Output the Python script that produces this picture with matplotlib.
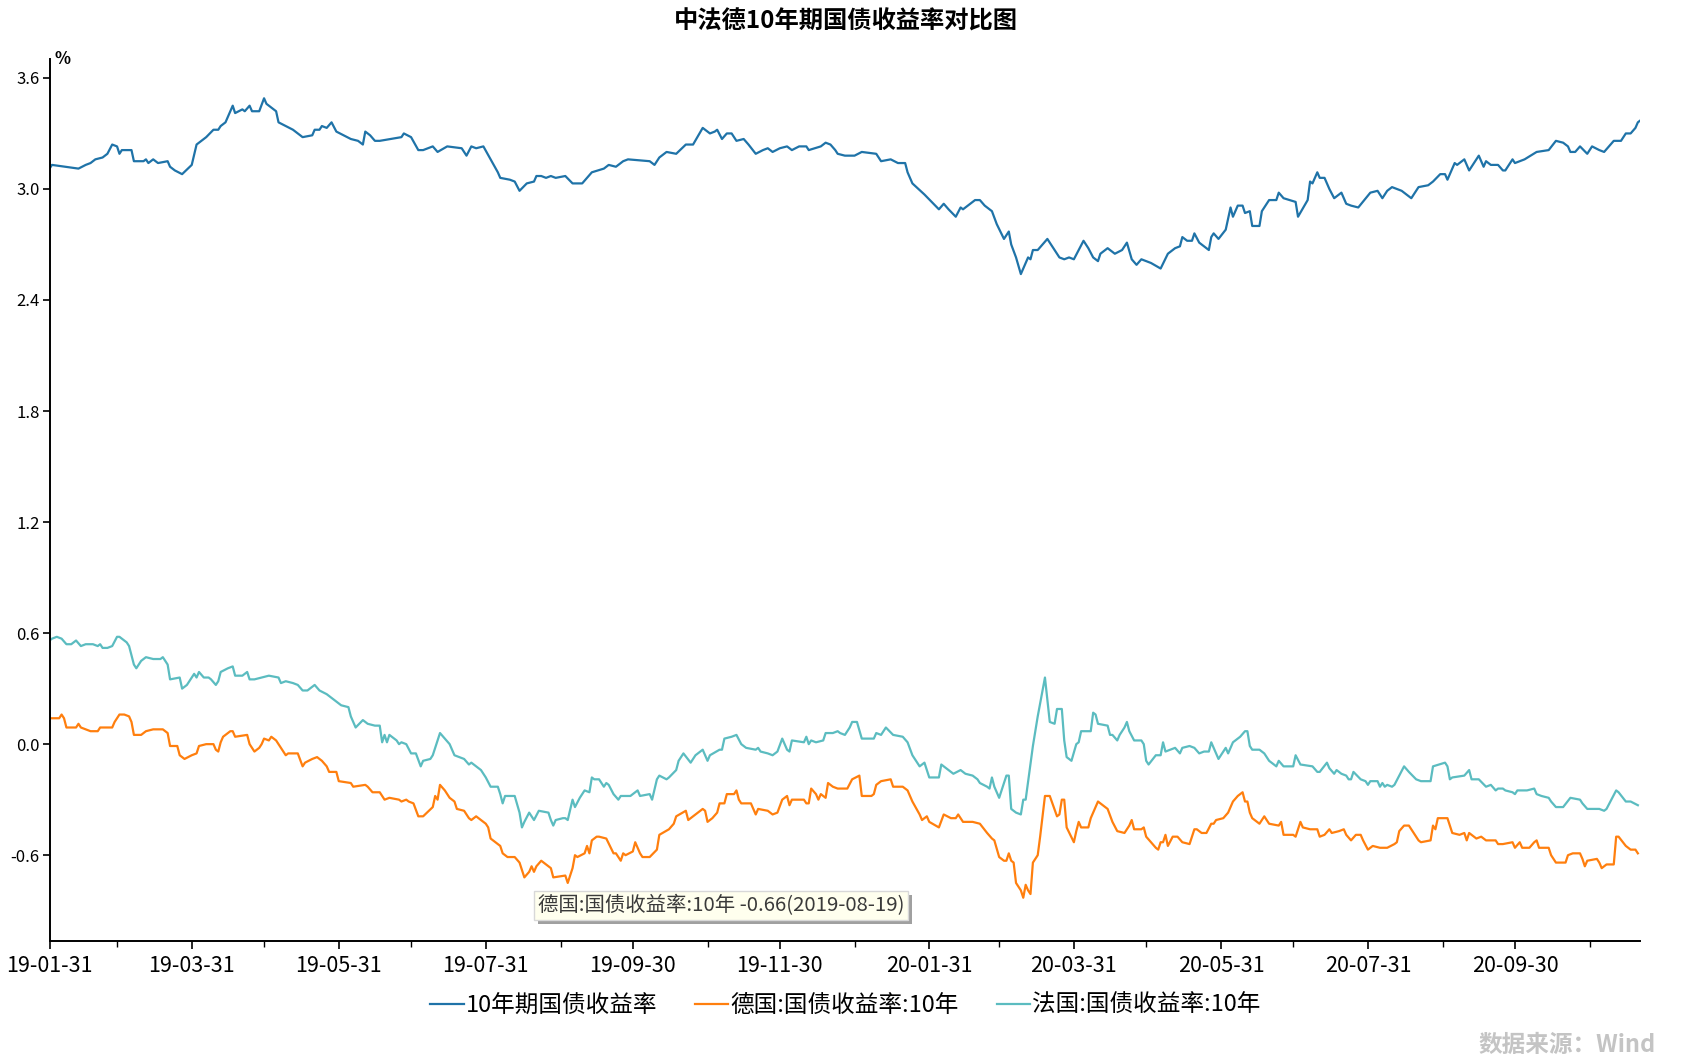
import matplotlib
matplotlib.use("Agg")
import matplotlib.pyplot as plt
import matplotlib.dates as mdates
import matplotlib.patheffects as pe
import pandas as pd

plt.rcParams['font.family'] = ['Noto Sans CJK SC', 'DejaVu Sans']
plt.rcParams['axes.unicode_minus'] = False

start = '2019-01-31'
end_day = 660

# day offsets from 2019-01-31 and yields (%)
cn_days = [0, 1, 12, 15, 17, 19, 22, 24, 26, 28, 29, 30, 34, 35, 39, 40, 41, 43, 45, 49,
           50, 52, 55, 59, 61, 65, 68, 70, 71, 73, 74, 76, 77, 80, 81, 83, 84, 87, 89, 90,
           94, 95, 98, 101, 103, 105, 109, 110, 112, 113, 115, 117, 119, 122, 125, 128, 130, 131, 133, 135,
           137, 146, 147, 150, 153, 155, 159, 161, 165, 171, 173, 175, 177, 180, 183, 186, 187, 191, 193, 195,
           198, 201, 202, 204, 206, 208, 210, 214, 217, 221, 223, 225, 230, 232, 235, 238, 240, 249, 251, 253,
           256, 260, 264, 267, 271, 274, 276, 277, 279, 281, 283, 285, 288, 290, 293, 296, 298, 300, 303, 306,
           308, 311, 314, 315, 320, 322, 324, 326, 327, 330, 334, 337, 343, 345, 349, 352, 355, 356, 358, 363,
           369, 371, 373, 376, 378, 379, 384, 386, 388, 391, 393, 396, 398, 399, 401, 403, 405, 406, 407, 408,
           410, 414, 417, 419, 421, 423, 425, 427, 429, 431, 433, 435, 436, 439, 442, 445, 447, 449, 451, 453,
           457, 461, 464, 467, 469, 470, 472, 474, 475, 477, 481, 482, 483, 485, 488, 490, 491, 493, 495, 496,
           498, 499, 502, 503, 506, 509, 510, 512, 517, 518, 522, 523, 524, 526, 527, 529, 531, 533, 536, 538,
           540, 543, 548, 551, 553, 555, 557, 561, 565, 568, 572, 574, 577, 579, 580, 583, 584, 587, 589, 593,
           595, 596, 598, 601, 603, 604, 607, 608, 612, 617, 622, 625, 628, 630, 631, 633, 635, 638, 640, 643,
           645, 647, 649, 652, 654, 656, 658, 659, 660]
cn_vals = [3.11, 3.13, 3.11, 3.13, 3.14, 3.16, 3.17, 3.19, 3.24, 3.23, 3.19, 3.21, 3.21, 3.15, 3.15, 3.16, 3.14, 3.16, 3.14, 3.15,
           3.12, 3.10, 3.08, 3.13, 3.24, 3.28, 3.32, 3.32, 3.34, 3.36, 3.39, 3.45, 3.41, 3.43, 3.42, 3.45, 3.42, 3.42, 3.49, 3.46,
           3.42, 3.36, 3.34, 3.32, 3.30, 3.28, 3.29, 3.32, 3.32, 3.34, 3.33, 3.36, 3.31, 3.29, 3.27, 3.26, 3.24, 3.31, 3.29, 3.26,
           3.26, 3.28, 3.30, 3.28, 3.21, 3.21, 3.23, 3.20, 3.23, 3.22, 3.18, 3.23, 3.22, 3.23, 3.16, 3.09, 3.06, 3.05, 3.04, 2.99,
           3.03, 3.04, 3.07, 3.07, 3.06, 3.07, 3.06, 3.07, 3.03, 3.03, 3.06, 3.09, 3.11, 3.13, 3.12, 3.15, 3.16, 3.15, 3.13, 3.17,
           3.20, 3.19, 3.24, 3.24, 3.33, 3.30, 3.31, 3.32, 3.27, 3.30, 3.30, 3.26, 3.27, 3.24, 3.19, 3.21, 3.22, 3.20, 3.22, 3.23,
           3.21, 3.23, 3.23, 3.21, 3.23, 3.25, 3.24, 3.21, 3.19, 3.18, 3.18, 3.20, 3.19, 3.15, 3.16, 3.14, 3.14, 3.09, 3.03, 2.97,
           2.89, 2.92, 2.89, 2.85, 2.90, 2.89, 2.94, 2.94, 2.91, 2.88, 2.81, 2.73, 2.77, 2.70, 2.63, 2.54, 2.60, 2.63, 2.62, 2.67,
           2.67, 2.73, 2.67, 2.63, 2.62, 2.63, 2.62, 2.67, 2.72, 2.68, 2.63, 2.61, 2.65, 2.68, 2.65, 2.67, 2.71, 2.62, 2.59, 2.62,
           2.60, 2.57, 2.65, 2.68, 2.69, 2.74, 2.72, 2.72, 2.76, 2.71, 2.67, 2.74, 2.76, 2.73, 2.78, 2.90, 2.85, 2.91, 2.91, 2.87,
           2.88, 2.80, 2.80, 2.88, 2.94, 2.94, 2.98, 2.95, 2.93, 2.85, 2.94, 3.04, 3.03, 3.09, 3.06, 3.06, 3.00, 2.95, 2.98, 2.92,
           2.91, 2.90, 2.98, 2.99, 2.95, 2.99, 3.01, 2.99, 2.95, 3.01, 3.02, 3.04, 3.08, 3.08, 3.05, 3.14, 3.13, 3.16, 3.10, 3.18,
           3.12, 3.15, 3.13, 3.13, 3.10, 3.10, 3.16, 3.14, 3.16, 3.20, 3.21, 3.26, 3.25, 3.23, 3.20, 3.20, 3.23, 3.19, 3.23, 3.21,
           3.20, 3.23, 3.26, 3.26, 3.30, 3.30, 3.33, 3.36, 3.37]

de_days = [0, 4, 5, 6, 7, 11, 12, 13, 17, 20, 21, 26, 27, 29, 31, 33, 34, 35, 38, 40,
           43, 47, 49, 50, 53, 54, 56, 59, 61, 62, 65, 68, 69, 70, 71, 72, 75, 76, 77, 82,
           83, 85, 87, 88, 89, 91, 92, 94, 95, 98, 99, 103, 105, 106, 109, 111, 113, 115, 116, 119,
           120, 125, 126, 131, 132, 134, 137, 139, 141, 145, 146, 148, 149, 151, 153, 155, 159, 160, 161, 162,
           164, 166, 168, 169, 172, 174, 175, 177, 179, 181, 182, 183, 185, 187, 188, 190, 193, 195, 197, 199,
           200, 201, 202, 204, 206, 208, 209, 214, 215, 217, 218, 219, 222, 223, 224, 225, 227, 228, 231, 234,
           235, 237, 238, 239, 242, 243, 245, 246, 249, 252, 253, 257, 259, 260, 264, 265, 267, 271, 272, 273,
           275, 277, 278, 280, 281, 284, 285, 286, 287, 291, 293, 294, 298, 300, 302, 304, 306, 307, 308, 313,
           314, 315, 316, 318, 319, 320, 322, 323, 325, 327, 331, 333, 336, 337, 341, 342, 343, 345, 349, 350,
           354, 356, 358, 361, 362, 364, 365, 369, 371, 374, 376, 377, 379, 383, 386, 389, 391, 392, 394, 396,
           397, 398, 399, 400, 401, 403, 404, 405, 406, 407, 408, 410, 411, 413, 415, 418, 419, 420, 421, 422,
           425, 426, 427, 428, 431, 432, 435, 437, 439, 441, 443, 446, 448, 449, 450, 453, 454, 455, 459, 460,
           461, 462, 463, 464, 466, 468, 470, 473, 475, 476, 478, 480, 482, 483, 484, 487, 489, 491, 493, 495,
           496, 497, 498, 499, 502, 504, 506, 510, 511, 512, 516, 517, 519, 520, 523, 526, 527, 529, 531, 532,
           535, 537, 538, 540, 542, 544, 545, 547, 549, 552, 555, 558, 559, 560, 562, 564, 566, 568, 569, 573,
           574, 575, 576, 580, 582, 585, 587, 588, 589, 592, 594, 596, 600, 601, 603, 607, 608, 610, 611, 614,
           616, 617, 618, 622, 623, 625, 629, 630, 632, 635, 636, 637, 638, 642, 643, 644, 646, 649, 650, 651,
           654, 656, 658, 659]
de_vals = [0.14, 0.14, 0.16, 0.14, 0.09, 0.09, 0.11, 0.09, 0.07, 0.07, 0.09, 0.09, 0.12, 0.16, 0.16, 0.15, 0.12, 0.05, 0.05, 0.07,
           0.08, 0.08, 0.06, -0.01, -0.01, -0.06, -0.08, -0.06, -0.05, -0.01, 0.00, 0.00, -0.03, -0.04, 0.01, 0.04, 0.07, 0.07, 0.04, 0.05,
           0.00, -0.04, -0.02, 0.00, 0.03, 0.02, 0.04, 0.02, 0.00, -0.06, -0.05, -0.05, -0.12, -0.10, -0.08, -0.07, -0.09, -0.12, -0.15, -0.15,
           -0.20, -0.21, -0.23, -0.22, -0.23, -0.26, -0.26, -0.30, -0.29, -0.30, -0.31, -0.30, -0.31, -0.32, -0.39, -0.39, -0.34, -0.28, -0.30, -0.22,
           -0.25, -0.29, -0.31, -0.35, -0.36, -0.40, -0.41, -0.39, -0.41, -0.43, -0.45, -0.51, -0.53, -0.55, -0.59, -0.61, -0.61, -0.64, -0.72, -0.69,
           -0.66, -0.69, -0.66, -0.63, -0.65, -0.67, -0.72, -0.71, -0.75, -0.67, -0.60, -0.61, -0.59, -0.55, -0.59, -0.52, -0.50, -0.50, -0.51, -0.59,
           -0.59, -0.63, -0.59, -0.60, -0.58, -0.53, -0.59, -0.61, -0.61, -0.57, -0.49, -0.46, -0.43, -0.39, -0.36, -0.41, -0.39, -0.35, -0.36, -0.42,
           -0.40, -0.37, -0.32, -0.32, -0.27, -0.27, -0.25, -0.30, -0.32, -0.32, -0.38, -0.35, -0.36, -0.38, -0.37, -0.30, -0.28, -0.33, -0.30, -0.30,
           -0.32, -0.32, -0.24, -0.27, -0.30, -0.27, -0.29, -0.21, -0.23, -0.24, -0.24, -0.19, -0.17, -0.28, -0.28, -0.27, -0.22, -0.20, -0.19, -0.23,
           -0.23, -0.25, -0.31, -0.38, -0.41, -0.39, -0.42, -0.45, -0.38, -0.40, -0.40, -0.38, -0.42, -0.42, -0.43, -0.48, -0.51, -0.52, -0.61, -0.63,
           -0.63, -0.59, -0.63, -0.64, -0.75, -0.79, -0.83, -0.76, -0.79, -0.81, -0.64, -0.60, -0.50, -0.28, -0.28, -0.39, -0.38, -0.30, -0.30, -0.45,
           -0.53, -0.47, -0.42, -0.45, -0.45, -0.40, -0.31, -0.33, -0.35, -0.42, -0.47, -0.48, -0.44, -0.41, -0.46, -0.46, -0.45, -0.50, -0.56, -0.57,
           -0.53, -0.53, -0.49, -0.55, -0.50, -0.50, -0.53, -0.54, -0.46, -0.46, -0.48, -0.48, -0.43, -0.43, -0.41, -0.40, -0.37, -0.31, -0.28, -0.26,
           -0.31, -0.31, -0.37, -0.40, -0.43, -0.39, -0.43, -0.44, -0.42, -0.49, -0.49, -0.50, -0.42, -0.45, -0.46, -0.46, -0.50, -0.49, -0.46, -0.48,
           -0.47, -0.46, -0.49, -0.52, -0.49, -0.49, -0.52, -0.57, -0.55, -0.56, -0.56, -0.54, -0.53, -0.47, -0.44, -0.44, -0.48, -0.52, -0.53, -0.52,
           -0.44, -0.46, -0.40, -0.40, -0.48, -0.49, -0.48, -0.52, -0.48, -0.51, -0.50, -0.52, -0.52, -0.54, -0.54, -0.53, -0.56, -0.53, -0.56, -0.56,
           -0.53, -0.52, -0.56, -0.56, -0.60, -0.64, -0.64, -0.60, -0.59, -0.59, -0.62, -0.66, -0.63, -0.62, -0.64, -0.67, -0.65, -0.65, -0.50, -0.50,
           -0.55, -0.57, -0.57, -0.59]

fr_days = [0, 1, 3, 5, 7, 9, 11, 13, 15, 18, 20, 21, 22, 24, 26, 28, 29, 31, 32, 33,
           35, 36, 38, 40, 43, 46, 47, 49, 50, 54, 55, 57, 60, 61, 62, 64, 66, 67, 69, 70,
           71, 74, 76, 77, 80, 82, 83, 85, 91, 95, 96, 98, 101, 103, 105, 107, 110, 112, 115, 117,
           119, 121, 124, 125, 127, 130, 132, 135, 137, 138, 139, 140, 141, 144, 145, 146, 148, 150, 152, 154,
           155, 158, 159, 162, 164, 166, 168, 170, 172, 174, 175, 177, 179, 181, 183, 186, 187, 188, 189, 192,
           193, 195, 196, 197, 199, 201, 203, 207, 208, 209, 210, 213, 214, 215, 217, 218, 220, 222, 224, 225,
           226, 228, 230, 231, 232, 234, 236, 237, 241, 244, 245, 249, 250, 252, 253, 256, 257, 260, 261, 263,
           266, 268, 271, 272, 273, 274, 278, 279, 280, 283, 285, 287, 289, 293, 294, 295, 298, 300, 302, 304,
           306, 307, 308, 313, 314, 315, 316, 318, 321, 322, 325, 327, 328, 330, 332, 333, 335, 337, 342, 343,
           345, 347, 350, 354, 356, 358, 361, 363, 365, 369, 370, 372, 375, 378, 380, 383, 385, 386, 389, 390,
           391, 392, 394, 396, 397, 398, 399, 401, 403, 404, 405, 408, 410, 411, 413, 415, 417, 418, 420, 421,
           422, 424, 426, 427, 428, 432, 433, 434, 435, 439, 440, 441, 443, 444, 446, 447, 448, 450, 453, 454,
           455, 456, 459, 461, 462, 463, 467, 469, 470, 473, 475, 477, 479, 481, 482, 483, 485, 487, 488, 489,
           491, 492, 494, 496, 497, 498, 499, 502, 504, 506, 508, 509, 510, 512, 516, 517, 519, 524, 526, 527,
           530, 531, 533, 534, 536, 538, 539, 540, 541, 544, 546, 547, 548, 551, 552, 553, 554, 555, 557, 558,
           560, 562, 564, 567, 569, 573, 574, 579, 580, 581, 582, 587, 589, 590, 593, 596, 598, 600, 601, 603,
           604, 607, 608, 609, 613, 616, 617, 619, 622, 623, 625, 628, 631, 635, 636, 638, 643, 645, 646, 648,
           650, 651, 654, 656, 659]
fr_vals = [0.56, 0.57, 0.58, 0.57, 0.54, 0.54, 0.56, 0.53, 0.54, 0.54, 0.53, 0.54, 0.52, 0.52, 0.53, 0.58, 0.58, 0.56, 0.55, 0.53,
           0.43, 0.41, 0.45, 0.47, 0.46, 0.46, 0.47, 0.43, 0.35, 0.36, 0.30, 0.32, 0.38, 0.36, 0.39, 0.36, 0.36, 0.35, 0.32, 0.34,
           0.39, 0.41, 0.42, 0.37, 0.37, 0.39, 0.35, 0.35, 0.37, 0.36, 0.33, 0.34, 0.33, 0.32, 0.29, 0.29, 0.32, 0.29, 0.27, 0.25,
           0.23, 0.21, 0.20, 0.15, 0.09, 0.13, 0.11, 0.10, 0.10, 0.01, 0.05, 0.01, 0.05, 0.02, 0.00, 0.01, 0.00, -0.05, -0.05, -0.12,
           -0.09, -0.08, -0.06, 0.06, 0.03, 0.00, -0.06, -0.07, -0.08, -0.11, -0.10, -0.12, -0.14, -0.18, -0.23, -0.23, -0.27, -0.32, -0.28, -0.28,
           -0.28, -0.37, -0.45, -0.42, -0.37, -0.41, -0.36, -0.37, -0.41, -0.44, -0.41, -0.40, -0.40, -0.41, -0.30, -0.34, -0.29, -0.25, -0.26, -0.18,
           -0.19, -0.19, -0.23, -0.21, -0.22, -0.27, -0.30, -0.28, -0.28, -0.25, -0.28, -0.27, -0.30, -0.19, -0.17, -0.19, -0.18, -0.14, -0.09, -0.05,
           -0.10, -0.06, -0.03, -0.06, -0.09, -0.06, -0.03, -0.03, 0.03, 0.04, 0.05, 0.00, -0.02, -0.03, -0.02, -0.04, -0.05, -0.06, -0.04, 0.03,
           -0.03, -0.04, 0.02, 0.01, 0.04, 0.00, 0.02, 0.01, 0.02, 0.06, 0.06, 0.07, 0.06, 0.05, 0.09, 0.12, 0.12, 0.03, 0.03, 0.06,
           0.05, 0.09, 0.05, 0.04, 0.01, -0.06, -0.12, -0.10, -0.18, -0.18, -0.11, -0.13, -0.16, -0.14, -0.16, -0.17, -0.19, -0.21, -0.23, -0.24,
           -0.18, -0.23, -0.29, -0.21, -0.17, -0.17, -0.35, -0.37, -0.38, -0.30, -0.30, -0.01, 0.15, 0.22, 0.36, 0.12, 0.11, 0.19, 0.19, 0.02,
           -0.07, -0.09, 0.00, 0.01, 0.07, 0.07, 0.17, 0.16, 0.11, 0.10, 0.05, 0.05, 0.02, 0.05, 0.09, 0.12, 0.07, 0.02, 0.02, 0.00,
           -0.09, -0.11, -0.06, -0.06, 0.01, -0.04, -0.02, -0.05, -0.02, -0.01, -0.02, -0.05, -0.04, -0.04, 0.01, -0.02, -0.08, -0.04, -0.02, -0.05,
           0.01, 0.02, 0.04, 0.07, 0.07, -0.01, -0.03, -0.03, -0.05, -0.09, -0.11, -0.12, -0.09, -0.12, -0.12, -0.06, -0.11, -0.12, -0.15, -0.15,
           -0.10, -0.13, -0.16, -0.14, -0.16, -0.17, -0.19, -0.19, -0.15, -0.19, -0.20, -0.22, -0.20, -0.20, -0.23, -0.21, -0.23, -0.22, -0.23, -0.22,
           -0.17, -0.12, -0.15, -0.19, -0.20, -0.20, -0.12, -0.10, -0.12, -0.19, -0.18, -0.17, -0.14, -0.19, -0.19, -0.23, -0.22, -0.25, -0.24, -0.24,
           -0.25, -0.26, -0.27, -0.25, -0.25, -0.24, -0.27, -0.28, -0.29, -0.31, -0.34, -0.34, -0.29, -0.30, -0.32, -0.35, -0.35, -0.36, -0.35, -0.30,
           -0.25, -0.26, -0.31, -0.31, -0.33]

series_names = ['10年期国债收益率', '德国:国债收益率:10年', '法国:国债收益率:10年']
colors = ['#1f73a8', '#ff7f0e', '#5bbcc0']
ytick_vals = [-0.6, 0.0, 0.6, 1.2, 1.8, 2.4, 3.0, 3.6]


def to_dates(days):
    return pd.Timestamp(start) + pd.to_timedelta(days, unit='D')


fig = plt.figure(figsize=(16.91, 10.61), dpi=100)
ax = fig.add_axes([0.0293, 0.1127, 0.9407, 0.8313])

for days, vals, name, c in zip([cn_days, de_days, fr_days], [cn_vals, de_vals, fr_vals],
                               series_names, colors):
    ax.plot(to_dates(days), vals, color=c, lw=1.6, label=name)

ax.set_xlim(pd.Timestamp(start), to_dates(end_day))
ax.set_ylim(-1.066, 3.70)

month_ends = pd.date_range(start, to_dates(end_day), freq='ME')
ax.set_xticks(month_ends[::2])
ax.set_xticks(month_ends[1::2], minor=True)
ax.xaxis.set_major_formatter(mdates.DateFormatter('%y-%m-%d'))
ax.set_yticks(ytick_vals)
ax.set_yticklabels(['%.1f' % v for v in ytick_vals])

ax.tick_params(axis='x', which='major', length=6, width=1.2, labelsize=15.5, pad=4)
ax.tick_params(axis='x', which='minor', length=4, width=1.0)
ax.tick_params(axis='y', length=5, width=1.2, labelsize=12, pad=2)
for s in ['top', 'right']:
    ax.spines[s].set_visible(False)
for s in ['left', 'bottom']:
    ax.spines[s].set_linewidth(1.4)

ax.text(0.003, 1.0, '%', transform=ax.transAxes, fontsize=12, fontweight='bold',
        ha='left', va='center')

fig.text(0.5, 0.98, '中法德10年期国债收益率对比图', ha='center', va='center',
         fontsize=17.5, fontweight='bold')

fig.legend(loc='center', bbox_to_anchor=(0.5, 0.052), ncol=3, frameon=False,
           fontsize=17, handlelength=1.4, handletextpad=0.1, columnspacing=1.6)

fig.text(0.979, 0.015, '数据来源：Wind', ha='right', va='center', fontsize=17,
         fontweight='bold', color='#c4c4c4')

tip = fig.text(0.318, 0.1465, '德国:国债收益率:10年 -0.66(2019-08-19)', ha='left', va='center',
               fontsize=14.7, color='#3a3a3a',
               bbox=dict(boxstyle='square,pad=0.2', fc='#ffffee', ec='#d8d8d8', lw=1))
tip.get_bbox_patch().set_path_effects([pe.SimplePatchShadow(offset=(3, -3), shadow_rgbFace='#888888', alpha=0.8),
                                       pe.Normal()])

fig.savefig('out.png', dpi=100)
